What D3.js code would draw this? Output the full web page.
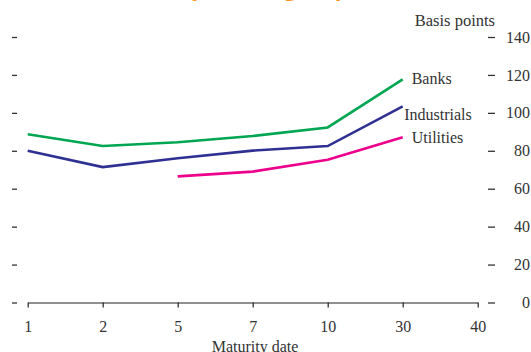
<!DOCTYPE html>
<html><head><meta charset="utf-8">
<script src="https://cdn.jsdelivr.net/npm/d3@7/dist/d3.min.js"></script>
<style>
html,body{margin:0;padding:0;background:#fff;}
svg{display:block;}
text{font-family:"Liberation Serif","Times New Roman",serif;fill:#333;}
</style></head>
<body>
<svg id="chart" width="531" height="352"></svg>
<script>
const categories = ["1","2","5","7","10","30","40"];
const banks       = [88.7, 82.5, 84.5, 87.8, 92.3, 117.7, null];
const industrials = [80.0, 71.4, 76.1, 80.1, 82.5, 103.4, null];
const utilities   = [null, null, 66.5, 69.0, 75.3, 87.2, null];
const yTicks = [0, 20, 40, 60, 80, 100, 120, 140];
const seriesNames = ["Banks", "Industrials", "Utilities"];
const seriesColors = ["#00A651", "#2E3192", "#EC008C"];
const titleText = "Credit curves by sector group";

const svg = d3.select("#chart");
const x = d3.scalePoint().domain(categories).range([27.7, 477.7]);
const y = d3.scaleLinear().domain([0, 140]).range([302.5, 37]);

// title (clipped at the top edge: only descenders show)
const title = svg.append("text").attr("x", 0).attr("y", -4)
  .style("font-family", "'Open Sans', sans-serif").style("font-weight", "700")
  .style("font-size", "22px").style("fill", "#F7941D").text(titleText);
const yIdx = titleText.indexOf("by") + 1;
const off = title.node().getSubStringLength(0, yIdx);
title.attr("x", 192 - off);

// x axis
const xAxis = svg.append("g").attr("transform", "translate(0,302.5)")
  .call(d3.axisBottom(x).tickSize(5).tickSizeOuter(0).tickPadding(13));
xAxis.select(".domain").attr("stroke", "#222").attr("stroke-width", 1.2);
xAxis.selectAll(".tick line").attr("stroke", "#222").attr("stroke-width", 1.2);
xAxis.selectAll("text").style("font-family", "'Liberation Serif',serif").style("font-size", "16px").attr("fill", "#333");

// left dashes
const lAxis = svg.append("g").attr("transform", "translate(17,0)")
  .call(d3.axisLeft(y).tickValues(yTicks).tickSize(5).tickFormat(""));
lAxis.select(".domain").remove();
lAxis.selectAll(".tick line").attr("stroke", "#333").attr("stroke-width", 1.3);

// right axis
const rAxis = svg.append("g").attr("transform", "translate(488,0)")
  .call(d3.axisRight(y).tickValues(yTicks).tickSize(7).tickPadding(35));
rAxis.select(".domain").remove();
rAxis.selectAll(".tick line").attr("stroke", "#333").attr("stroke-width", 1.3);
rAxis.selectAll("text").attr("text-anchor", "end").attr("x", 42)
  .style("font-family", "'Liberation Serif',serif").style("font-size", "16px").attr("fill", "#333");

svg.append("text").attr("x", 495).attr("y", 26).attr("text-anchor", "end")
  .style("font-size", "16.5px").text("Basis points");

svg.append("text").attr("x", 255).attr("y", 352).attr("text-anchor", "middle")
  .style("font-size", "16px").text("Maturity date");

// lines
const data = [banks, industrials, utilities];
const line = d3.line()
  .defined(d => d.v !== null)
  .x(d => x(d.c)).y(d => y(d.v));
const labelOffsets = [[9, 5], [1.5, 14], [9, 6]];
data.forEach((vals, i) => {
  const pts = categories.map((c, j) => ({c: c, v: vals[j]}));
  svg.append("path").datum(pts).attr("d", line)
    .attr("fill", "none").attr("stroke", seriesColors[i]).attr("stroke-width", 2.6)
    .attr("stroke-linejoin", "miter");
  const last = pts.filter(d => d.v !== null).pop();
  svg.append("text")
    .attr("x", x(last.c) + labelOffsets[i][0])
    .attr("y", y(last.v) + labelOffsets[i][1])
    .style("font-size", "16px").text(seriesNames[i]);
});
</script>
</body></html>
